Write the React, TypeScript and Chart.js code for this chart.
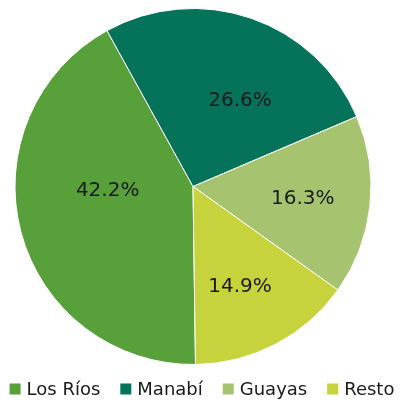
import React, { useEffect, useRef } from "react";
import { Chart, registerables } from "chart.js";

Chart.register(...registerables);

const categories = ["Los Ríos", "Manabí", "Guayas", "Resto"];
const shares = [42.2, 26.6, 16.3, 14.9];
const colors = ["#58A03A", "#04735A", "#A6C46F", "#C6D33D"];
// label placement tweaks: [angle offset deg, radius fraction]
const labelPlacement = [
  [12, 0.48],
  [9.7, 0.55],
  [0, 0.62],
  [2.4, 0.62],
];

const FONT = "'DejaVu Sans', sans-serif";

const labelPlugin = {
  id: "sliceLabels",
  afterDatasetsDraw(chart: any) {
    const ctx = chart.ctx;
    const meta = chart.getDatasetMeta(0);
    ctx.save();
    ctx.font = `20px ${FONT}`;
    ctx.fillStyle = "#1a1a1a";
    ctx.textAlign = "center";
    ctx.textBaseline = "middle";
    meta.data.forEach((arc: any, i: number) => {
      const { x, y, startAngle, endAngle, outerRadius } = arc.getProps(
        ["x", "y", "startAngle", "endAngle", "outerRadius"],
        true
      );
      const [off, frac] = labelPlacement[i];
      const mid = (startAngle + endAngle) / 2 + (off * Math.PI) / 180;
      const r = outerRadius * frac;
      ctx.fillText(
        shares[i].toFixed(1) + "%",
        x + Math.cos(mid) * r,
        y + Math.sin(mid) * r
      );
    });
    ctx.restore();
  },
};

const legendPlugin = {
  id: "bottomLegend",
  afterDraw(chart: any) {
    const ctx = chart.ctx;
    const box = 11;
    const textGap = 6;
    const itemGap = 20;
    const centerX = 202;
    const cy = 389;
    ctx.save();
    ctx.font = `18px ${FONT}`;
    ctx.textBaseline = "middle";
    ctx.textAlign = "left";
    const widths = categories.map((c) => ctx.measureText(c).width);
    const total =
      widths.reduce((a, w) => a + w + box + textGap, 0) +
      itemGap * (categories.length - 1);
    let x = centerX - total / 2;
    categories.forEach((c, i) => {
      ctx.fillStyle = colors[i];
      ctx.fillRect(x, cy - box / 2, box, box);
      ctx.fillStyle = "#1a1a1a";
      ctx.fillText(c, x + box + textGap, cy + 1);
      x += box + textGap + widths[i] + itemGap;
    });
    ctx.restore();
  },
};

export default function App() {
  const ref = useRef<HTMLCanvasElement>(null);
  useEffect(() => {
    const chart = new Chart(ref.current!, {
      type: "pie",
      data: {
        labels: categories,
        datasets: [
          {
            data: shares,
            backgroundColor: colors,
            borderColor: "#ffffff",
            borderWidth: 1,
          },
        ],
      },
      options: {
        responsive: false,
        animation: false,
        rotation: 179.2,
        layout: { padding: { top: 8, left: 0, right: 15, bottom: 37 } },
        plugins: {
          tooltip: { enabled: false },
          legend: { display: false },
        },
      },
      plugins: [labelPlugin, legendPlugin],
    });
    return () => chart.destroy();
  }, []);
  return (
    <div style={{ position: "fixed", left: 0, top: 0, width: 401, height: 402, background: "#fff" }}>
      <canvas ref={ref} width={401} height={402} />
    </div>
  );
}
